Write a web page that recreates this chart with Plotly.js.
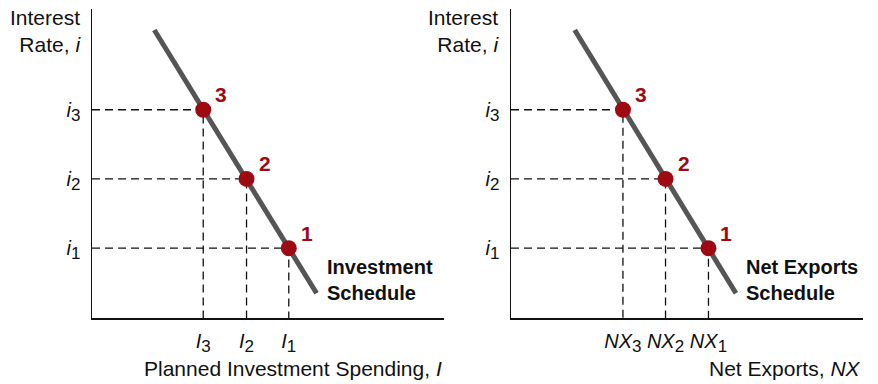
<!DOCTYPE html>
<html>
<head>
<meta charset="utf-8">
<script src="https://cdn.plot.ly/plotly-3.0.1.min.js"></script>
<style>html,body{margin:0;padding:0;background:#fff;}#chart{width:878px;height:384px;}</style>
</head>
<body>
<div id="chart"></div>
<script>
// ---- data (arbitrary units, 0..100 on both axes) ----
const pointLabels = ['1', '2', '3'];
const interestRates = [22.6, 45.0, 67.4];            // i1, i2, i3
const investment = [55.9, 43.9, 31.6];               // I1, I2, I3
const netExports = [56.1, 43.9, 31.8];               // NX1, NX2, NX3
const investLineX = [17.7, 63.8];
const investLineY = [93.2, 8.0];
const nxLineX = [18.1, 63.9];
const nxLineY = [93.2, 8.0];
const subscripts = ['1', '2', '3'];
const yTickBase = 'i';
const investTickBase = 'I';
const nxTickBase = 'NX';

const FONT = 'Liberation Sans, Arial, sans-serif';
const RED = '#9e0a12';
const GRAY = '#555555';

function tickText(base) {
  return subscripts.map(s => '<i>' + base + '</i><sub><span style="font-size:17px">' + s + '</span></sub>');
}

function panel(xs, lineX, lineY, xa, ya) {
  const traces = [];
  xs.forEach((xv, k) => {
    traces.push({
      x: [0, xv, xv], y: [interestRates[k], interestRates[k], 0],
      xaxis: xa, yaxis: ya, mode: 'lines', hoverinfo: 'skip', showlegend: false,
      line: {color: '#111', width: 1.3, dash: '8px,5px'}
    });
  });
  traces.push({
    x: lineX, y: lineY, xaxis: xa, yaxis: ya, mode: 'lines', showlegend: false,
    line: {color: GRAY, width: 5}
  });
  traces.push({
    x: xs, y: interestRates, xaxis: xa, yaxis: ya, mode: 'markers', showlegend: false,
    marker: {color: RED, size: 16}
  });
  return traces;
}

function pointAnnotations(xs, xa, ya) {
  return xs.map((xv, k) => ({
    text: '<b>' + pointLabels[k] + '</b>', xref: xa, yref: ya, x: xv, y: interestRates[k],
    xshift: 18, yshift: 15, showarrow: false,
    font: {family: FONT, size: 21, color: RED}
  }));
}

const data = [].concat(
  panel(investment, investLineX, investLineY, 'x', 'y'),
  panel(netExports, nxLineX, nxLineY, 'x2', 'y2')
);

const yDom = [66 / 384, 375 / 384];
function xAx(dom, vals, txt) {
  return {
    domain: dom, range: [0, 100], showgrid: false, zeroline: false,
    showline: true, linecolor: '#111', linewidth: 1.5,
    tickvals: vals, ticktext: txt, ticks: '', ticklabelstandoff: 4,
    tickfont: {family: FONT, size: 20, color: '#111'}, fixedrange: true
  };
}
function yAx(anchor) {
  return {
    domain: yDom, range: [0, 100], showgrid: false, zeroline: false, anchor: anchor,
    showline: true, linecolor: '#111', linewidth: 1.5,
    tickvals: interestRates, ticktext: tickText(yTickBase), ticks: '', ticklabelstandoff: 6,
    tickfont: {family: FONT, size: 20, color: '#111'}, fixedrange: true
  };
}

const annFont = {family: FONT, size: 21, color: '#111'};
const layout = {
  width: 878, height: 384,
  margin: {l: 0, r: 0, t: 0, b: 0},
  paper_bgcolor: '#fff', plot_bgcolor: '#fff',
  xaxis: Object.assign(xAx([92 / 878, 444 / 878], investment, tickText(investTickBase)), {anchor: 'y'}),
  yaxis: yAx('x'),
  xaxis2: Object.assign(xAx([511 / 878, 863 / 878], netExports, tickText(nxTickBase)), {anchor: 'y2'}),
  yaxis2: yAx('x2'),
  annotations: [
    {text: 'Interest<br>Rate, <i>i</i>', xref: 'paper', yref: 'paper', x: 83 / 878, y: 1 - 31 / 384,
     xanchor: 'right', yanchor: 'middle', align: 'right', showarrow: false, font: annFont},
    {text: 'Interest<br>Rate, <i>i</i>', xref: 'paper', yref: 'paper', x: 501 / 878, y: 1 - 31 / 384,
     xanchor: 'right', yanchor: 'middle', align: 'right', showarrow: false, font: annFont},
    {text: 'Planned Investment Spending, <i>I</i>', xref: 'paper', yref: 'paper', x: 444 / 878, y: 1 - 368 / 384,
     xanchor: 'right', yanchor: 'middle', showarrow: false, font: annFont},
    {text: 'Net Exports, <i>NX</i>', xref: 'paper', yref: 'paper', x: 863 / 878, y: 1 - 368 / 384,
     xanchor: 'right', yanchor: 'middle', showarrow: false, font: annFont},
    {text: '<b>Investment<br>Schedule</b>', xref: 'paper', yref: 'paper', x: 325 / 878, y: 1 - 280 / 384,
     xanchor: 'left', yanchor: 'middle', align: 'left', showarrow: false, font: {family: FONT, size: 20, color: '#111'}},
    {text: '<b>Net Exports<br>Schedule</b>', xref: 'paper', yref: 'paper', x: 744 / 878, y: 1 - 280 / 384,
     xanchor: 'left', yanchor: 'middle', align: 'left', showarrow: false, font: {family: FONT, size: 20, color: '#111'}}
  ].concat(pointAnnotations(investment, 'x', 'y'), pointAnnotations(netExports, 'x2', 'y2'))
};

Plotly.newPlot('chart', data, layout, {staticPlot: true, displayModeBar: false});
</script>
</body>
</html>
